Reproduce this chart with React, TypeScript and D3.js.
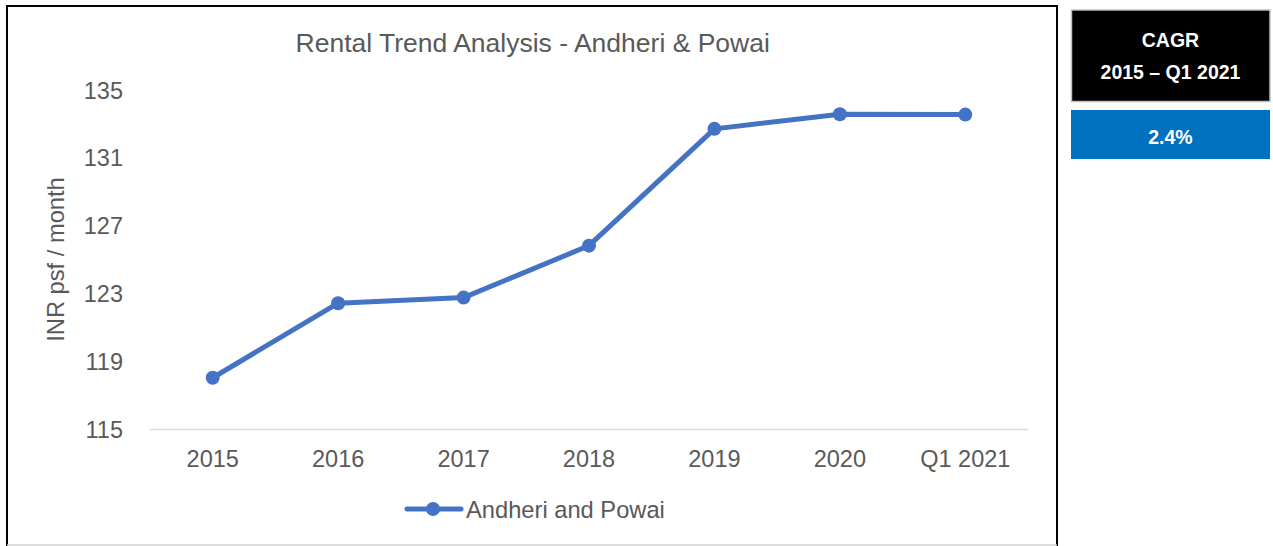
import React from "react";
import * as d3 from "d3";

const categories = ["2015", "2016", "2017", "2018", "2019", "2020", "Q1 2021"];
const rentValues = [118.05, 122.44, 122.77, 125.83, 132.71, 133.57, 133.55];
const yTicks = [115, 119, 123, 127, 131, 135];
const seriesName = "Andheri and Powai";
const chartTitle = "Rental Trend Analysis - Andheri & Powai";
const yAxisTitle = "INR psf / month";
const cagrHeader = ["CAGR", "2015 \u2013 Q1 2021"];
const cagrValue = "2.4%";

const W = 1273;
const H = 546;
const FONT = "'Liberation Sans', Arial, sans-serif";
const TEXT = "#595959";
const BLUE = "#4472C4";

export default function App() {
  const x = d3.scaleBand<string>().domain(categories).range([150, 1028]);
  const y = d3.scaleLinear().domain([115, 135]).range([429.5, 90]);
  const cx = (c: string) => (x(c) ?? 0) + x.bandwidth() / 2;

  const line = d3
    .line<number>()
    .x((_, i) => cx(categories[i]))
    .y((d) => y(d));

  return (
    <svg
      width={W}
      height={H}
      style={{ position: "absolute", left: 0, top: 0, background: "#fff" }}
    >
      <rect x={0} y={0} width={W} height={H} fill="#fff" />
      {/* chart frame */}
      <line x1={7} y1={6} x2={1057} y2={6} stroke="#000" strokeWidth={2} />
      <line x1={7} y1={5} x2={7} y2={546} stroke="#000" strokeWidth={2} />
      <line x1={1057} y1={5} x2={1057} y2={546} stroke="#000" strokeWidth={2} />
      <line x1={7} y1={545} x2={1057} y2={545} stroke="#d0d0d0" strokeWidth={1.5} />

      {/* title */}
      <text
        x={532.7}
        y={52}
        textAnchor="middle"
        fontFamily={FONT}
        fontSize={26.5}
        fill={TEXT}
      >
        {chartTitle}
      </text>

      {/* y ticks */}
      {yTicks.map((t) => (
        <text
          key={t}
          x={123}
          y={y(t) + 8.5}
          textAnchor="end"
          fontFamily={FONT}
          fontSize={23.5}
          fill={TEXT}
        >
          {t}
        </text>
      ))}

      {/* y axis title */}
      <text
        transform={`translate(64,259.5) rotate(-90)`}
        textAnchor="middle"
        fontFamily={FONT}
        fontSize={23.7}
        fill={TEXT}
      >
        {yAxisTitle}
      </text>

      {/* baseline */}
      <line
        x1={x.range()[0]}
        x2={x.range()[1]}
        y1={y(115)}
        y2={y(115)}
        stroke="#d9d9d9"
        strokeWidth={1.5}
      />

      {/* x tick labels */}
      {categories.map((c) => (
        <text
          key={c}
          x={cx(c)}
          y={467}
          textAnchor="middle"
          fontFamily={FONT}
          fontSize={23.5}
          fill={TEXT}
        >
          {c}
        </text>
      ))}

      {/* series */}
      <path
        d={line(rentValues) ?? ""}
        fill="none"
        stroke={BLUE}
        strokeWidth={5}
        strokeLinejoin="round"
        strokeLinecap="round"
      />
      {rentValues.map((v, i) => (
        <circle key={i} cx={cx(categories[i])} cy={y(v)} r={7} fill={BLUE} />
      ))}

      {/* legend */}
      <line x1={407} x2={461} y1={509} y2={509} stroke={BLUE} strokeWidth={5} strokeLinecap="round" />
      <circle cx={433} cy={509} r={7} fill={BLUE} />
      <text x={466} y={517.5} fontFamily={FONT} fontSize={23.7} fill={TEXT}>
        {seriesName}
      </text>

      {/* CAGR boxes */}
      <rect x={1071.5} y={10} width={198.5} height={91.5} fill="#000" stroke="#bfbfbf" strokeWidth={1.5} />
      <text x={1170.5} y={47} textAnchor="middle" fontFamily={FONT} fontWeight="bold" fontSize={19.5} fill="#fff">
        {cagrHeader[0]}
      </text>
      <text x={1170.5} y={79} textAnchor="middle" fontFamily={FONT} fontWeight="bold" fontSize={19.5} fill="#fff">
        {cagrHeader[1]}
      </text>
      <rect x={1071} y={110} width={199} height={49} fill="#0070C0" />
      <text x={1170.5} y={144} textAnchor="middle" fontFamily={FONT} fontWeight="bold" fontSize={19.5} fill="#fff">
        {cagrValue}
      </text>
    </svg>
  );
}
